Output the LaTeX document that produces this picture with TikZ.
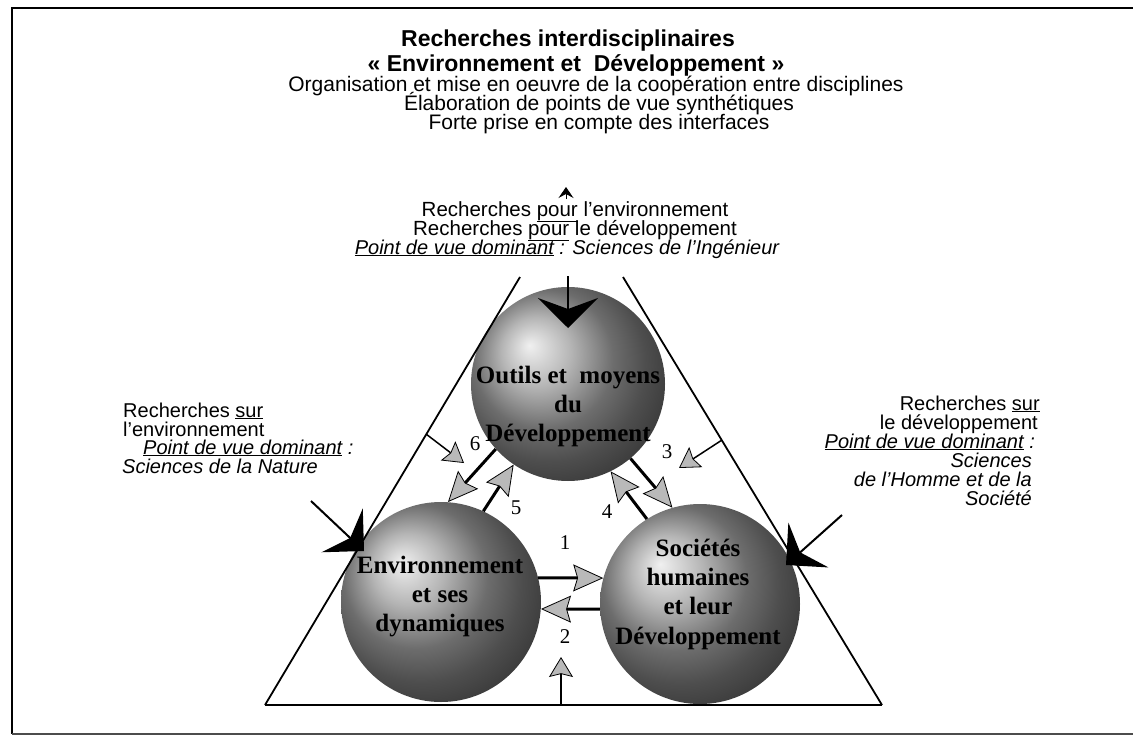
\documentclass[tikz,border=0pt]{standalone}
\usepackage{fontspec}
\setmainfont{Liberation Sans}
\newfontfamily\serifb{Liberation Serif}
\usetikzlibrary{arrows.meta}
\tikzset{
  sphere/.style={circle, inner sep=0pt, ball color=gray!78},
  stext/.style={font=\serifb\bfseries\fontsize{25}{25}\selectfont, inner sep=0pt, anchor=base},
  numlbl/.style={font=\serifb\fontsize{21}{21}\selectfont, inner sep=0pt},
  sans/.style={font=\fontsize{20}{20}\selectfont, inner sep=0pt},
  midsans/.style={font=\fontsize{20.5}{20.5}\selectfont, inner sep=0pt, anchor=base},
  topsans/.style={font=\fontsize{21}{21}\selectfont, inner sep=0pt, anchor=base},
  titlef/.style={font=\bfseries\fontsize{23}{23}\selectfont, inner sep=0pt, anchor=base},
  bigarrow/.style={line width=2pt, -{Stealth[length=30pt,width=60pt,inset=11pt]}},
  medarrow/.style={line width=3pt, -{Stealth[length=30pt,width=27pt,inset=4pt,fill=gray!55,line width=0.8pt]}},
  thinarrow/.style={line width=1.5pt, -{Stealth[length=20pt,width=24pt,inset=3pt,fill=gray!55,line width=0.8pt]}},
}
\begin{document}
\begin{tikzpicture}[x=1pt,y=-1pt]
\useasboundingbox (0,0) rectangle (1133,739);
% frame
\draw[line width=1.8pt] (1133,8) -- (12,8) -- (12,734);
\draw[line width=1.2pt, black!70] (12,734) -- (1133,734);
% spheres
\node[sphere, minimum size=194pt] (S) at (568,384) {};
\node[sphere, minimum size=200pt] (E) at (441,602) {};
\node[sphere, minimum size=200pt] (H) at (700,604) {};
% triangle
\coordinate (TL) at (520,277);
\coordinate (BL) at (265,705);
\coordinate (BR) at (882,705);
\coordinate (TR) at (623,277);
\draw[line width=1.8pt] (TL) -- (BL);
\draw[line width=1.8pt] (TR) -- (BR);
\draw[line width=2.6pt] (BL) -- (BR);
% sphere texts
\node[stext] (s1) at (568,383) {Outils et\ \ moyens};
\node[stext] (s2) at (568,412) {du};
\node[stext] (s3) at (568,441) {Développement};
\node[stext] (e1) at (440,573) {Environnement};
\node[stext] (e2) at (440,602) {et ses};
\node[stext] (e3) at (440,631) {dynamiques};
\node[stext] (h1) at (698,556) {Sociétés};
\node[stext] (h2) at (698,585) {humaines};
\node[stext] (h3) at (698,614) {et leur};
\node[stext] (h4) at (698,644) {Développement};
% numbers
\node[numlbl] (n6) at (475,444) {6};
\node[numlbl] (n3) at (667,452) {3};
\node[numlbl] (n5) at (516,508) {5};
\node[numlbl] (n4) at (607,512) {4};
\node[numlbl] (n1) at (565,543) {1};
\node[numlbl] (n2) at (565,637) {2};
% top block
\node[titlef] (title) at (568,46) {Recherches interdisciplinaires};
\node[titlef] (sub) at (576,71) {« Environnement et\ \ Développement »};
\node[topsans] (org) at (596,91) {Organisation et mise en oeuvre de la coopération entre disciplines};
\node[topsans] (elab) at (599,110) {Élaboration de points de vue synthétiques};
\node[topsans] (forte) at (599,129) {Forte prise en compte des interfaces};
% middle block
\node[midsans] (m1) at (575,216) {Recherches \underline{pour} l'environnement};
\node[midsans] (m2) at (575,235) {Recherches \underline{pour} le développement};
\node[sans, anchor=base] (m3) at (567,254) {\itshape\underline{Point de vue dominant} : Sciences de l'Ingénieur};
% left block
\node[sans, anchor=base west] (l1) at (123,417) {Recherches \underline{sur}};
\node[sans, anchor=base west] (l2) at (123,436) {l'environnement};
\node[sans, anchor=base west] (l3) at (143,454) {\itshape\underline{Point de vue dominant} :};
\node[sans, anchor=base west] (l4) at (122,473) {\itshape Sciences de la Nature};
% right block
\node[sans, anchor=base east] (r1) at (1040,410) {Recherches \underline{sur}};
\node[sans, anchor=base east] (r2) at (1038,429) {le développement};
\node[sans, anchor=base east] (r3) at (1035,448) {\itshape\underline{Point de vue dominant} :};
\node[sans, anchor=base east] (r4) at (1032,467) {\itshape Sciences};
\node[sans, anchor=base east] (r5) at (1032,486) {\itshape de l'Homme et de la};
\node[sans, anchor=base east] (r6) at (1032,505) {\itshape Société};
% big arrows
\coordinate (tA0) at (568,276);
\coordinate (tA1) at (568,328);
\draw[bigarrow] (tA0) -- (tA1);
\coordinate (lA0) at (311,501);
\coordinate (lA1) at (364,551);
\draw[bigarrow] (lA0) -- (lA1);
\coordinate (rA0) at (842,515);
\coordinate (rA1) at (786,565);
\draw[bigarrow] (rA0) -- (rA1);
% small top arrowhead
\coordinate (up0) at (566,199);
\coordinate (up1) at (566,187);
\draw[line width=1pt, -{Stealth[length=11pt,width=15pt,inset=4pt]}] (up0) -- (up1);
% arrows between spheres
\draw[medarrow] (S.222) -- (E.86);
\draw[medarrow] (E.65) -- (S.236);
\draw[medarrow] (H.122) -- (S.296);
\draw[medarrow] (S.310) -- (H.106);
\draw[medarrow] (E.14) -- (H.165);
\draw[medarrow] (H.183) -- (E.356);
% thin arrows
\coordinate (t6) at (426,434);
\coordinate (t6e) at (464,463);
\draw[thinarrow] (t6) -- (t6e);
\coordinate (t3) at (722,440);
\coordinate (t3e) at (679,468);
\draw[thinarrow] (t3) -- (t3e);
\coordinate (b0) at (561,705);
\coordinate (b1) at (561,657);
\draw[thinarrow] (b0) -- (b1);
\end{tikzpicture}
\end{document}
